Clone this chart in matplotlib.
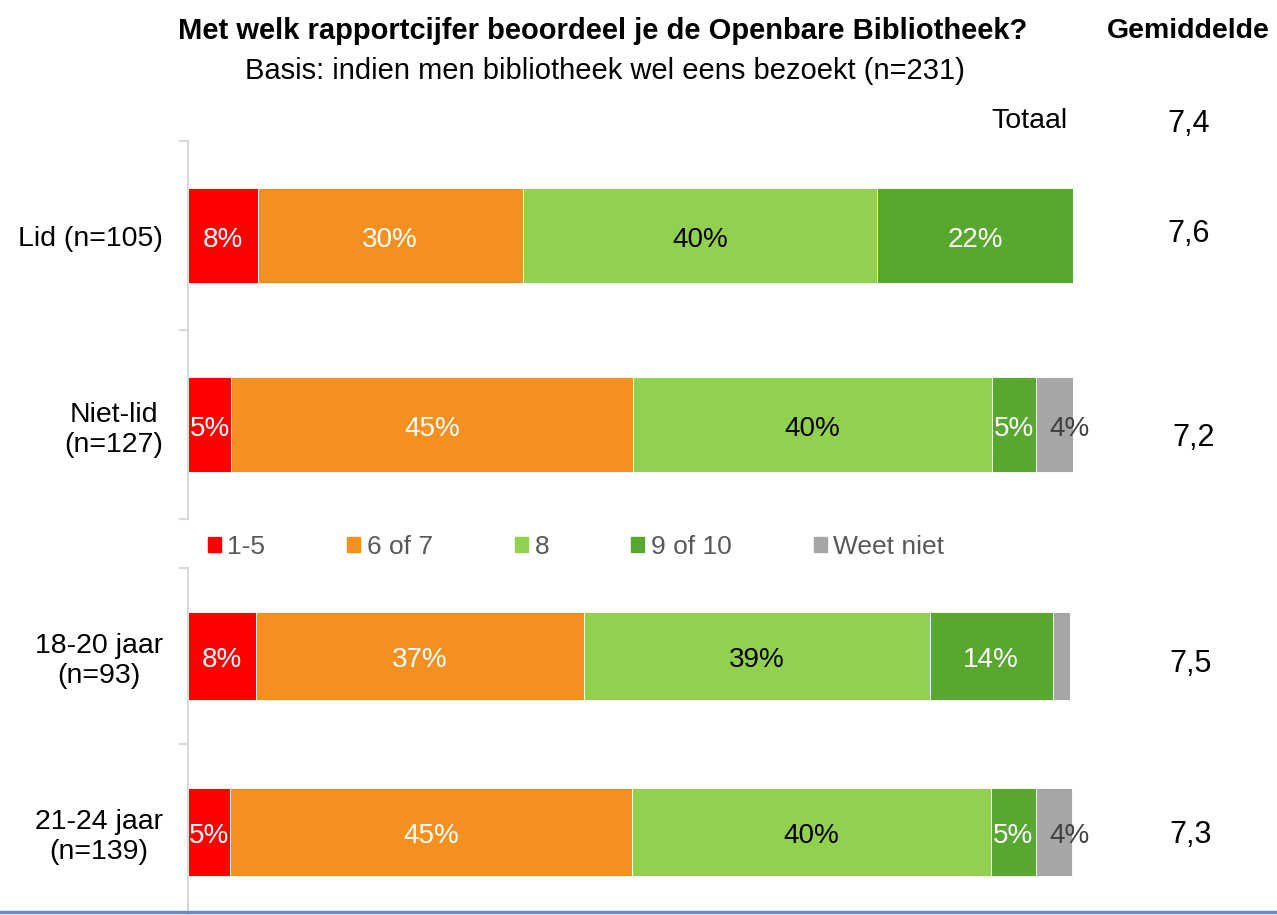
import matplotlib.pyplot as plt
from matplotlib.lines import Line2D

plt.rcParams['font.family'] = ['Liberation Sans', 'DejaVu Sans']

# antwoordcategorieen
categories = ['1-5', '6 of 7', '8', '9 of 10', 'Weet niet']
colors = ['#ff0000', '#f39020', '#92d050', '#58a72f', '#a6a6a6']
label_colors = ['white', 'white', 'black', 'white', '#404040']

# groep 1: lidmaatschap
groups_lid = ['Lid (n=105)', 'Niet-lid\n(n=127)']
values_lid = [
    [7.9, 29.9, 40.1, 22.1, 0.0],
    [4.9, 45.4, 40.5, 5.0, 4.2],
]
gem_lid = [7.6, 7.2]

# groep 2: leeftijd
groups_age = ['18-20 jaar\n(n=93)', '21-24 jaar\n(n=139)']
values_age = [
    [7.7, 37.0, 39.1, 13.9, 2.0],
    [4.8, 45.4, 40.5, 5.1, 4.1],
]
gem_age = [7.5, 7.3]

gem_totaal = 7.4

W, H = 1277, 915
fig = plt.figure(figsize=(W / 100, H / 100), dpi=100)


def fmt(v):
    return f'{v:.1f}'.replace('.', ',')


def draw_group(rect, labels, values, gem, gem_off):
    ax = fig.add_axes(rect)
    for i, row in enumerate(values):
        left = 0
        for j, v in enumerate(row):
            ax.barh(i, v, left=left, height=0.5, color=colors[j],
                    edgecolor='white', linewidth=0.6)
            if v >= 3:
                dx = 11 if j == 4 else 0
                ax.annotate(f'{v:.0f}%', (left + v / 2, i), xytext=(dx, -3),
                            textcoords='offset points', ha='center', va='center',
                            color=label_colors[j], fontsize=20)
            left += v
        ax.annotate(fmt(gem[i]), (1189 / W, i), xycoords=('figure fraction', 'data'),
                    xytext=gem_off[i], textcoords='offset points',
                    ha='center', va='center', fontsize=22)
    ax.set_xlim(0, 100)
    ax.set_ylim(1.5, -0.5)
    ax.xaxis.set_visible(False)
    ax.set_yticks([-0.5, 0.5, 1.5])
    ax.set_yticklabels([])
    ax.set_yticks([0, 1], minor=True)
    ax.set_yticklabels(labels, minor=True, fontsize=20.5, multialignment='center')
    ax.tick_params(axis='y', which='minor', length=0, pad=18)
    ax.tick_params(axis='y', which='major', length=6.5, width=1.5, color='#d9d9d9')
    for s in ['top', 'right', 'bottom']:
        ax.spines[s].set_visible(False)
    ax.spines['left'].set_color('#d9d9d9')
    ax.spines['left'].set_linewidth(1.5)
    ax.patch.set_alpha(0)
    return ax


left = 188 / W
width = 885 / W
draw_group([left, 1 - 519 / H, width, 378 / H], groups_lid, values_lid, gem_lid,
           [(0, 1), (3, -10)])
draw_group([left, 1 - 920 / H, width, 352 / H], groups_age, values_age, gem_age,
           [(1, -6), (1, -2)])

# titels
fig.text(603 / W, 1 - 31 / H, 'Met welk rapportcijfer beoordeel je de Openbare Bibliotheek?',
         ha='center', va='center', fontsize=21, fontweight='bold')
fig.text(605 / W, 1 - 71 / H, 'Basis: indien men bibliotheek wel eens bezoekt (n=231)',
         ha='center', va='center', fontsize=21)
fig.text(1188 / W, 1 - 31 / H, 'Gemiddelde', ha='center', va='center',
         fontsize=20.5, fontweight='bold')
fig.text(1067 / W, 1 - 121 / H, 'Totaal', ha='right', va='center', fontsize=20.5)
fig.text(1189 / W, 1 - 124 / H, fmt(gem_totaal), ha='center', va='center', fontsize=22)

# legenda tussen de twee groepen
handles = [plt.Rectangle((0, 0), 1, 1, color=c) for c in colors]
fig.legend(handles, categories, loc='center', bbox_to_anchor=(576 / W, 1 - 547 / H),
           ncol=5, frameon=False, fontsize=19, labelcolor='#595959',
           handlelength=0.5, handleheight=0.5, handletextpad=0.25,
           columnspacing=3.1)

# blauwe lijn onderaan
fig.add_artist(Line2D([0, 1], [1 - 912 / H, 1 - 912 / H], transform=fig.transFigure,
                      color='#6a8cc6', linewidth=2.5))

fig.savefig('out.png', dpi=100)
